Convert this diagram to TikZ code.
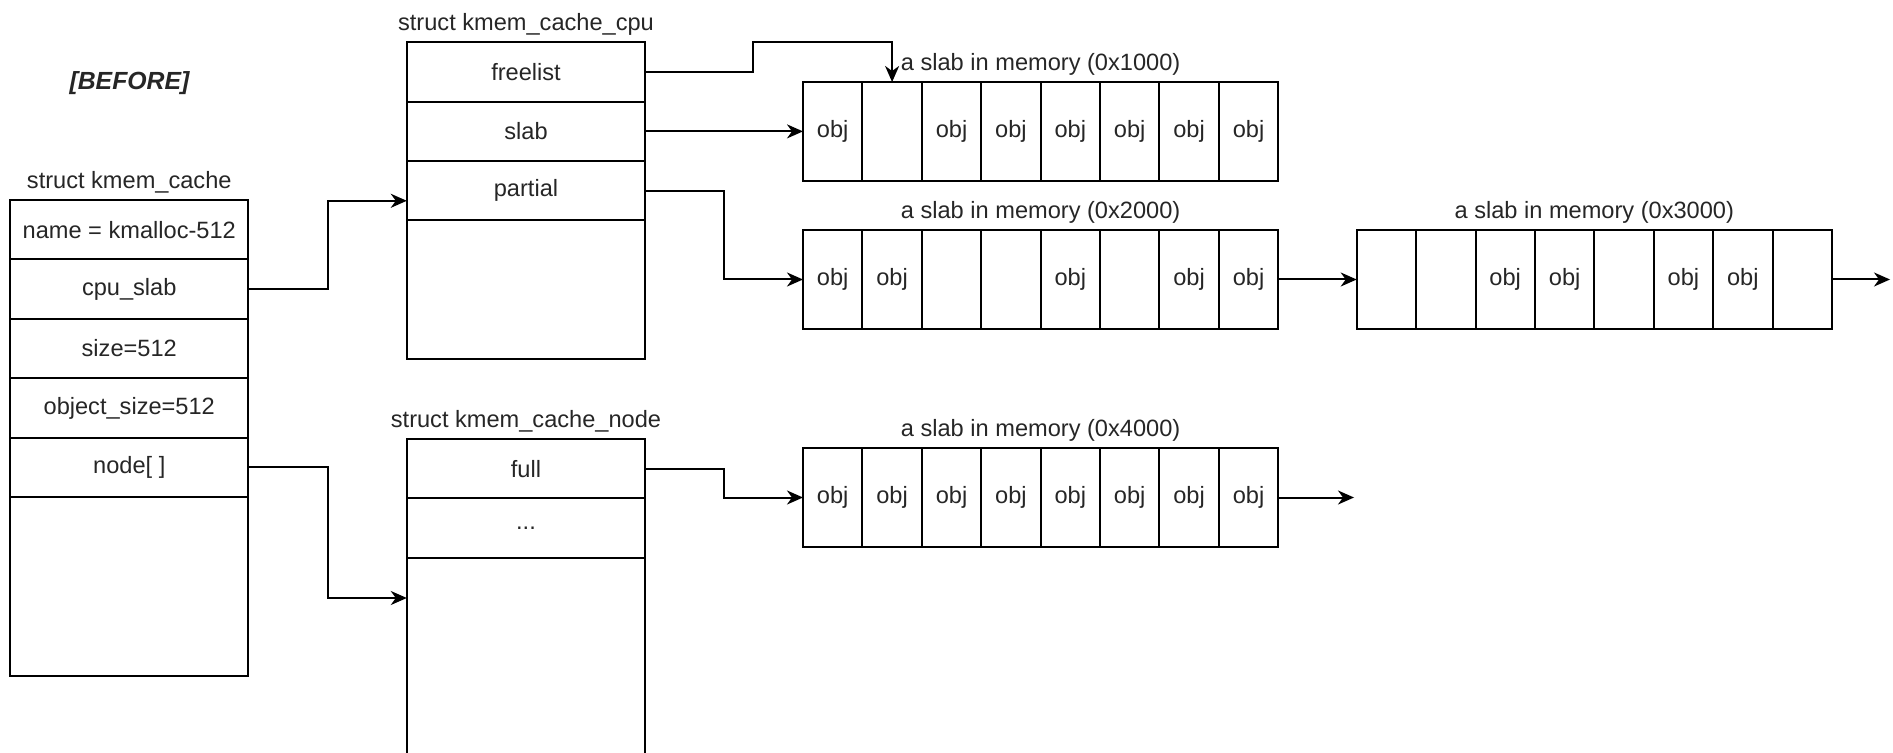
\documentclass[tikz,border=0pt]{standalone}
\usepackage{fontspec}
\setmainfont{Liberation Sans}
\usetikzlibrary{arrows.meta,positioning}

\begin{document}
\begin{tikzpicture}[
  x=0.5pt, y=-0.5pt,
  every node/.style={font=\fontsize{11.8}{14}\selectfont, text=black!85},
  frame/.style={draw, line width=1pt, outer sep=0pt, inner sep=0pt,
                minimum width=119.2pt},
  field/.style={frame, minimum height=29.7pt},
  cell/.style={draw, line width=1pt, outer sep=0pt, inner sep=0pt,
               minimum width=29.7pt, minimum height=49.5pt},
  title/.style={inner sep=1pt},
  arr/.style={-{Stealth[length=8pt, width=7pt, inset=2.5pt]}, line width=1pt},
  node distance=2.3pt
]
  \useasboundingbox (0,0) rectangle (1893,753);

  \node[font=\fontsize{12.4}{14}\selectfont\bfseries\itshape] (before) at (129.5,83) {[BEFORE]};

  % struct kmem_cache
  \node[frame, minimum height=238pt] (kc) at (129.25,438) {};
  \node[title, above=of kc] (kctitle) {struct kmem\_cache};
  \node[field, below=0pt of kc.north] (kname)  {name = kmalloc-512};
  \node[field, below=0pt of kname]    (kcpu)   {cpu\_slab};
  \node[field, below=0pt of kcpu]     (ksize)  {size=512};
  \node[field, below=0pt of ksize]    (kobj)   {object\_size=512};
  \node[field, below=0pt of kobj]     (knode)  {node[ ]};

  % struct kmem_cache_cpu
  \node[frame, minimum height=158.5pt] (cpu) at (526,200.8) {};
  \node[title, above=of cpu] (cputitle) {struct kmem\_cache\_cpu};
  \node[field, below=0pt of cpu.north] (freelist) {freelist};
  \node[field, below=0pt of freelist]  (slabf)    {slab};
  \node[field, below=0pt of slabf]     (partial)  {partial};

  % struct kmem_cache_node
  \node[frame, minimum height=159pt] (kcn) at (526,598) {};
  \node[title, above=of kcn] (kcntitle) {struct kmem\_cache\_node};
  \node[field, below=0pt of kcn.north] (full) {full};
  \node[field, below=0pt of full]      (dots) {...};

  % Slabs
  \foreach \t [count=\i] in {obj,{},obj,obj,obj,obj,obj,obj}
    \node[cell] (sa-\i) at ({773.3+59.4*\i},131.5) {\t};
  \foreach \t [count=\i] in {obj,obj,{},{},obj,{},obj,obj}
    \node[cell] (sb-\i) at ({773.3+59.4*\i},279.5) {\t};
  \foreach \t [count=\i] in {{},{},obj,obj,{},obj,obj,{}}
    \node[cell] (sc-\i) at ({1327+59.4*\i},279.5) {\t};
  \foreach \t [count=\i] in {obj,obj,obj,obj,obj,obj,obj,obj}
    \node[cell] (sd-\i) at ({773.3+59.4*\i},497.5) {\t};

  \node[title, above=of sa-4.north east] (satitle) {a slab in memory (0x1000)};
  \node[title, above=of sb-4.north east] (sbtitle) {a slab in memory (0x2000)};
  \node[title, above=of sc-4.north east] (sctitle) {a slab in memory (0x3000)};
  \node[title, above=of sd-4.north east] (sdtitle) {a slab in memory (0x4000)};

  \coordinate (scend) at (1890,279.5);
  \coordinate (sdend) at (1354,497.5);

  % Arrows
  \draw[arr] (kcpu.east) -- ++(79.5,0) |- (cpu.west);
  \draw[arr] (knode.east) -- ++(79.5,0) |- (kcn.west);
  \draw[arr] (freelist.east) -- ++(108,0) -- ++(0,-30) -| (sa-2.north);
  \draw[arr] (slabf.east) -- (slabf.east -| sa-1.west);
  \draw[arr] (partial.east) -- ++(78.5,0) |- (sb-1.west);
  \draw[arr] (full.east) -- ++(78.5,0) |- (sd-1.west);
  \draw[arr] (sb-8.east) -- (sc-1.west);
  \draw[arr] (sc-8.east) -- (scend);
  \draw[arr] (sd-8.east) -- (sdend);
\end{tikzpicture}
\end{document}
